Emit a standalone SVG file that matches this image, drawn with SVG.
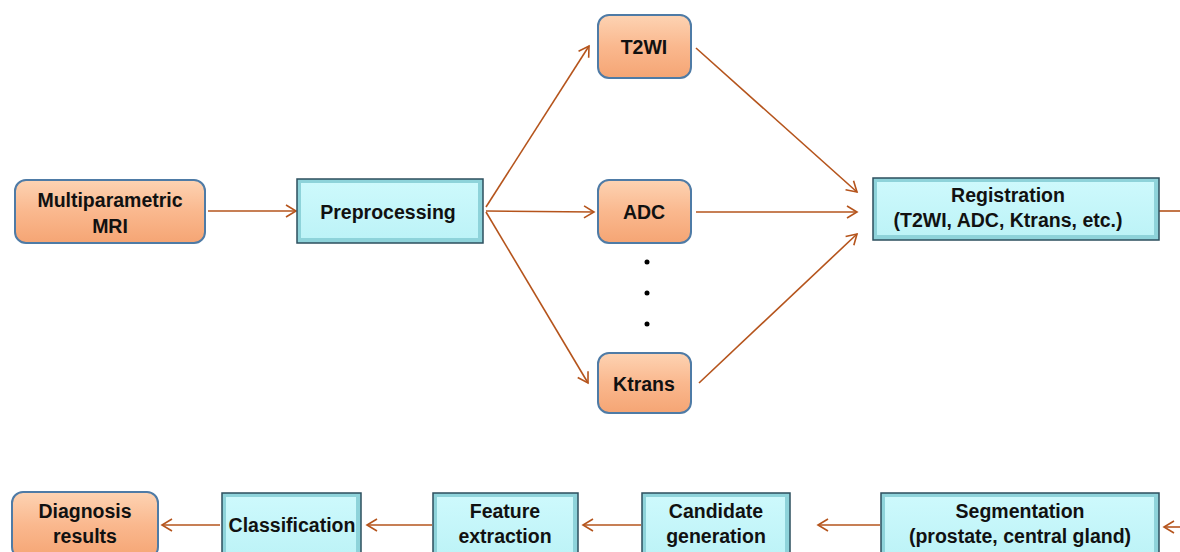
<svg xmlns="http://www.w3.org/2000/svg" width="1180" height="552" viewBox="0 0 1180 552">
  <defs>
    <linearGradient id="og" x1="0" y1="0" x2="0" y2="1">
      <stop offset="0" stop-color="#FDD3B3"/>
      <stop offset="0.5" stop-color="#FAB88E"/>
      <stop offset="1" stop-color="#F5A574"/>
    </linearGradient>
    <linearGradient id="cg" x1="0" y1="0" x2="0" y2="1">
      <stop offset="0" stop-color="#CDF9FC"/>
      <stop offset="1" stop-color="#BDF3F7"/>
    </linearGradient>
    <marker id="ah" markerWidth="14" markerHeight="14" refX="11" refY="7" orient="auto" markerUnits="userSpaceOnUse">
      <path d="M1,1 L11,7 L1,13" fill="none" stroke="#B5541C" stroke-width="1.6"/>
    </marker>
  </defs>
  <style>
    .o { fill: url(#og); stroke: #4E7BA6; stroke-width: 2; }
    .c { fill: #8ED3DA; stroke: #2C4F5E; stroke-width: 1.5; }
    .ci { fill: url(#cg); stroke: none; }
    .t { font-family: "Liberation Sans", Arial, sans-serif; font-size: 19.5px; font-weight: bold; fill: #111; text-anchor: middle; }
    .a { fill: none; stroke: #B5541C; stroke-width: 1.6; marker-end: url(#ah); }
    .l { fill: none; stroke: #B5541C; stroke-width: 1.6; }
  </style>
  <rect width="1180" height="552" fill="#fff"/>

  <g id="connectors">
    <line class="a" x1="208" y1="211" x2="296" y2="211"/>
    <line class="a" x1="486" y1="207" x2="589" y2="46"/>
    <line class="a" x1="486" y1="211" x2="594" y2="212"/>
    <line class="a" x1="486" y1="212" x2="588" y2="383"/>
    <line class="a" x1="696" y1="48" x2="857" y2="192"/>
    <line class="a" x1="696" y1="212" x2="857" y2="212"/>
    <line class="a" x1="699" y1="383" x2="857" y2="234"/>
    <line class="l" x1="1159" y1="211" x2="1180" y2="211"/>
    <line class="a" x1="1180" y1="527" x2="1164" y2="527"/>
    <line class="a" x1="880" y1="525" x2="818" y2="525"/>
    <line class="a" x1="641" y1="525" x2="583" y2="525"/>
    <line class="a" x1="432" y1="525" x2="367" y2="525"/>
    <line class="a" x1="220" y1="525" x2="162" y2="525"/>
  </g>

  <g id="dots" fill="#000">
    <circle cx="647" cy="262" r="2.5"/>
    <circle cx="647" cy="293" r="2.5"/>
    <circle cx="647" cy="324" r="2.5"/>
  </g>

  <g id="mri">
    <rect class="o" x="15" y="180" width="190" height="63" rx="11"/>
    <text class="t" x="110" y="207">Multiparametric</text>
    <text class="t" x="110" y="233">MRI</text>
  </g>
  <g id="preprocessing">
    <rect class="c" x="297" y="179" width="186" height="64"/>
    <rect class="ci" x="301" y="183" width="177" height="55"/>
    <text class="t" x="388" y="219">Preprocessing</text>
  </g>
  <g id="t2wi">
    <rect class="o" x="598" y="15" width="93" height="63" rx="11"/>
    <text class="t" x="644" y="54">T2WI</text>
  </g>
  <g id="adc">
    <rect class="o" x="598" y="180" width="93" height="63" rx="11"/>
    <text class="t" x="644" y="219">ADC</text>
  </g>
  <g id="ktrans">
    <rect class="o" x="598" y="353" width="93" height="60" rx="11"/>
    <text class="t" x="644" y="391">Ktrans</text>
  </g>
  <g id="registration">
    <rect class="c" x="873" y="178" width="286" height="62"/>
    <rect class="ci" x="877" y="182" width="277" height="53"/>
    <text class="t" x="1008" y="202">Registration</text>
    <text class="t" x="1008" y="227">(T2WI,  ADC, Ktrans,  etc.)</text>
  </g>
  <g id="segmentation">
    <rect class="c" x="881" y="493" width="278" height="66"/>
    <rect class="ci" x="885" y="497" width="269" height="58"/>
    <text class="t" x="1020" y="518">Segmentation</text>
    <text class="t" x="1020" y="543">(prostate, central gland)</text>
  </g>
  <g id="candidate">
    <rect class="c" x="642" y="493" width="148" height="66"/>
    <rect class="ci" x="646" y="497" width="139" height="58"/>
    <text class="t" x="716" y="518">Candidate</text>
    <text class="t" x="716" y="543">generation</text>
  </g>
  <g id="feature">
    <rect class="c" x="433" y="493" width="145" height="66"/>
    <rect class="ci" x="437" y="497" width="136" height="58"/>
    <text class="t" x="505" y="518">Feature</text>
    <text class="t" x="505" y="543">extraction</text>
  </g>
  <g id="classification">
    <rect class="c" x="222" y="493" width="139" height="66"/>
    <rect class="ci" x="226" y="497" width="130" height="58"/>
    <text class="t" x="292" y="532">Classification</text>
  </g>
  <g id="diagnosis">
    <rect class="o" x="12" y="492" width="146" height="66" rx="11"/>
    <text class="t" x="85" y="518">Diagnosis</text>
    <text class="t" x="85" y="543">results</text>
  </g>
</svg>
